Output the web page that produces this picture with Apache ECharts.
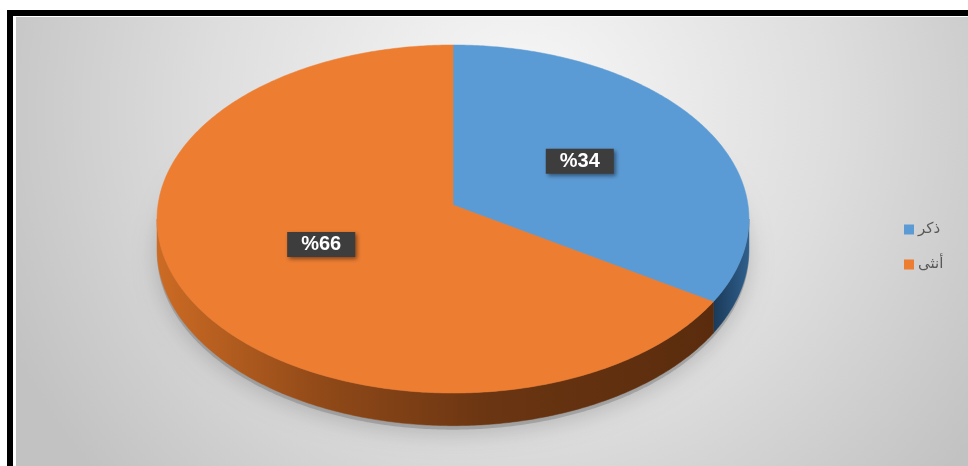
<!DOCTYPE html>
<html>
<head>
<meta charset="utf-8">
<script src="https://cdn.jsdelivr.net/npm/echarts@6/dist/echarts.min.js"></script>
<style>
  html, body { margin: 0; padding: 0; background: #ffffff; }
  #chart { width: 968px; height: 466px; }
</style>
</head>
<body>
<div id="chart"></div>
<script>
// Gender split (percent)
const categories = ['ذكر', 'أنثى'];
const values = [34, 66];
const topColors = ['#5b9bd5', '#ed7d31'];
const sideStops = [
  [[0, '#2f5f8c'], [1, '#1b3a58']],
  [[0, '#cc6b24'], [0.3, '#904918'], [0.6, '#6a3512'], [1, '#5a2c0d']]
];

// 3D disc: tilted circle under a light perspective projection
const CX = 453, CY = 205;      // apex of the slices
const RX = 295, RY = 172.9;    // projected radii
const PERSP = 0.0805;          // far half shrinks, near half grows
const DEPTH = 30;              // disc thickness
const EDGE = Math.acos(-PERSP); // silhouette angle (right side); left is 2π - EDGE
const TAU = Math.PI * 2;

function project(theta, r) {
  const u = r * Math.sin(theta), v = -r * Math.cos(theta);
  const d = 1 - PERSP * v;
  return [CX + RX * u / d, CY + RY * v / d, d];
}
function lower(theta) {
  const p = project(theta, 1);
  return [p[0], p[1] + DEPTH / p[2]];
}
function arc(a0, a1, fn) {
  const pts = [];
  const n = Math.max(2, Math.ceil(Math.abs(a1 - a0) / 0.01));
  for (let i = 0; i <= n; i++) {
    const t = a0 + (a1 - a0) * i / n;
    const p = fn(t);
    pts.push([p[0], p[1]]);
  }
  return pts;
}

const total = values.reduce((s, v) => s + v, 0);
const spans = [];
values.reduce((acc, v) => { spans.push([acc, acc + v, v]); return acc + v; }, 0);

function renderSlice(idx) {
  return function (params, api) {
    const a0 = api.value(0) / total * TAU;
    const a1 = api.value(1) / total * TAU;
    const val = api.value(2);
    const children = [];

    // soft drop shadow under the disc (drawn once)
    if (idx === 0) {
      const base = arc(0, TAU, t => { const p = lower(t); return [p[0], p[1] + 4]; });
      children.push({
        type: 'polygon', z2: 0, silent: true,
        shape: { points: base },
        style: { fill: 'rgba(90,90,90,0.3)', shadowBlur: 22, shadowOffsetX: 0, shadowOffsetY: 4, shadowColor: 'rgba(0,0,0,0.6)' }
      });
    }

    // outer wall (only the front half shows)
    const s0 = Math.max(a0, EDGE), s1 = Math.min(a1, TAU - EDGE);
    if (s0 < s1) {
      const wall = arc(s0, s1, t => project(t, 1)).concat(arc(s1, s0, lower));
      const xs = wall.map(p => p[0]);
      const minX = Math.min.apply(null, xs), maxX = Math.max.apply(null, xs);
      const stops = sideStops[idx].map(s => ({ offset: s[0], color: s[1] }));
      const grad = idx === 0
        ? new echarts.graphic.LinearGradient(maxX, 0, minX, 0, stops, true)
        : new echarts.graphic.LinearGradient(minX, 0, maxX, 0, stops, true);
      children.push({
        type: 'polygon', z2: 1,
        shape: { points: wall },
        style: { fill: grad, stroke: grad, lineWidth: 0.5 }
      });
    }

    // top face
    const top = [[CX, CY]].concat(arc(a0, a1, t => project(t, 1)));
    children.push({
      type: 'polygon', z2: 2,
      shape: { points: top },
      style: { fill: topColors[idx], stroke: topColors[idx], lineWidth: 0.5 }
    });

    // value label
    const mid = (a0 + a1) / 2;
    const lp = project(mid, 0.5);
    children.push({
      type: 'text', z2: 3,
      x: lp[0], y: lp[1] - 3,
      style: {
        text: '%' + val,
        fill: '#ffffff',
        font: 'bold 20px "Liberation Sans", Arial, sans-serif',
        align: 'center',
        verticalAlign: 'middle',
        backgroundColor: '#3d3d3d',
        padding: [3, 14, 2, 14],
        shadowColor: 'rgba(0,0,0,0.45)',
        shadowBlur: 4,
        shadowOffsetX: 2,
        shadowOffsetY: 2
      }
    });

    return { type: 'group', children: children };
  };
}

const chart = echarts.init(document.getElementById('chart'), null, { renderer: 'canvas' });

const series = categories.map((name, i) => ({
  type: 'custom',
  name: name,
  coordinateSystem: 'none',
  itemStyle: { color: topColors[i] },
  data: [spans[i]],
  renderItem: renderSlice(i),
  animation: false
}));

chart.setOption({
  animation: false,
  backgroundColor: '#ffffff',
  graphic: [
    {
      type: 'rect', z: -10, silent: true,
      shape: { x: 16, y: 17, width: 960, height: 460 },
      style: {
        fill: new echarts.graphic.RadialGradient(520, 110, 560, [
          { offset: 0, color: '#f8f8f8' },
          { offset: 0.55, color: '#dedede' },
          { offset: 1, color: '#c2c2c2' }
        ], true)
      }
    },
    {
      type: 'rect', z: -9, silent: true,
      shape: { x: 10, y: 13, width: 990, height: 500 },
      style: { fill: 'none', stroke: '#000000', lineWidth: 6 }
    }
  ],
  legend: {
    orient: 'vertical',
    left: 899,
    top: 217,
    itemWidth: 10,
    itemHeight: 10,
    itemGap: 20,
    icon: 'rect',
    selectedMode: false,
    data: categories,
    textStyle: { color: '#595959', fontSize: 15, fontFamily: '"DejaVu Sans", sans-serif', padding: [0, 0, 0, -1] }
  },
  series: series
});
</script>
</body>
</html>
